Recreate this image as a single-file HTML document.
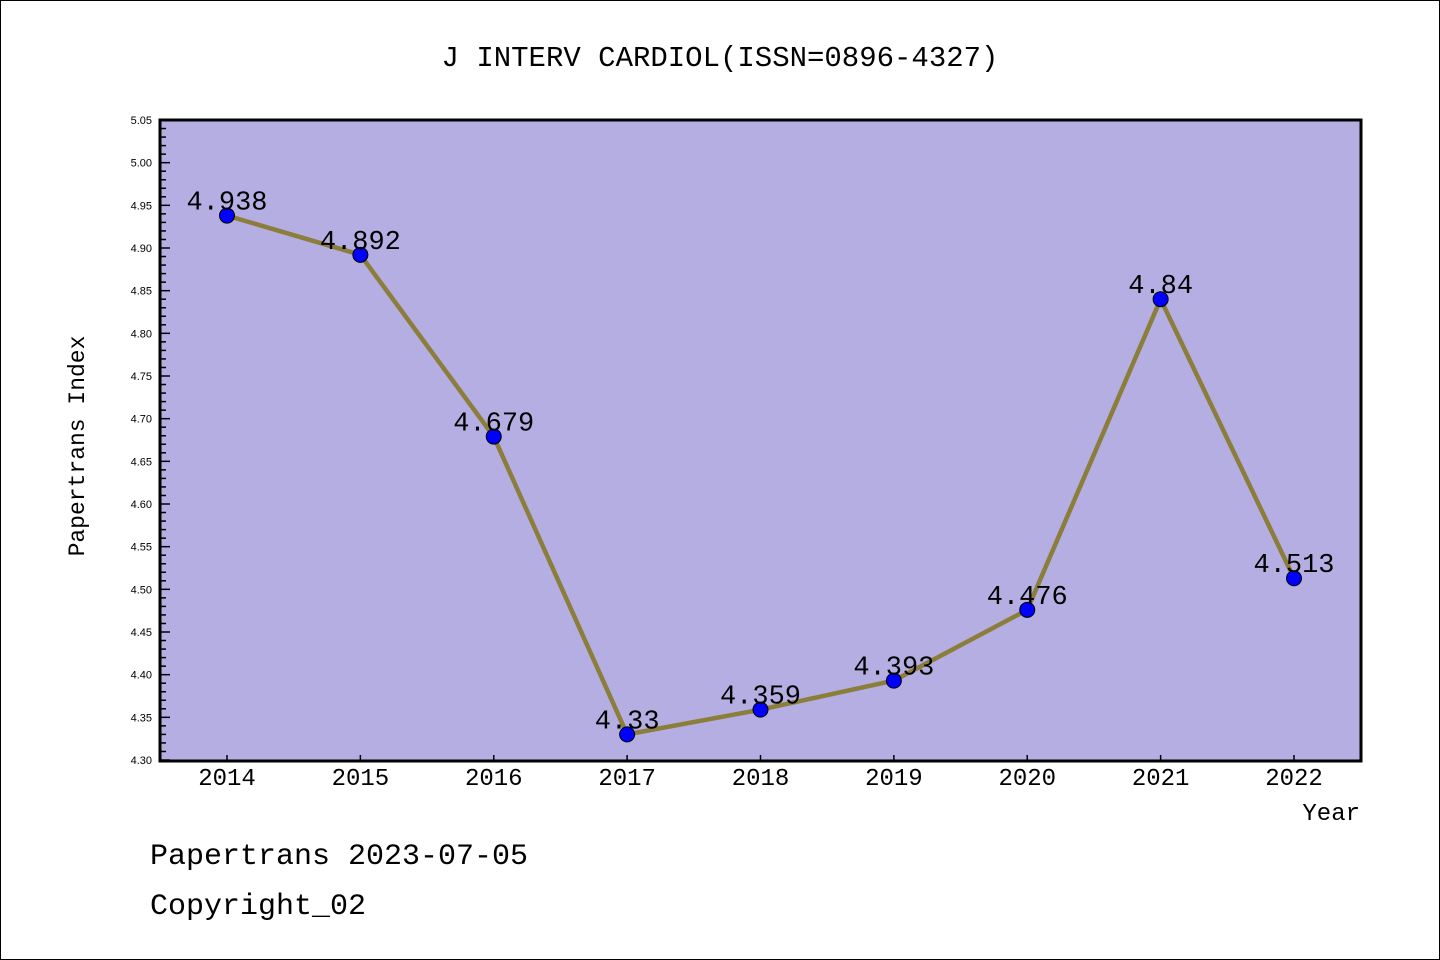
<!DOCTYPE html>
<html><head><meta charset="utf-8"><style>
body{margin:0;background:#fff}
svg{display:block;font-family:"Liberation Mono","Noto Sans CJK SC",monospace}
</style></head><body>
<svg id="chart" width="1440" height="960" viewBox="0 0 1440 960">
<rect x="0.5" y="0.5" width="1439" height="959" fill="#fff" stroke="#000"/>
<text x="720" y="66" text-anchor="middle" font-size="29">J INTERV CARDIOL(ISSN=0896-4327)</text>
<rect x="160" y="120" width="1201" height="641" fill="#b5aee2"/>
<g id="axes"></g>
<g id="marks"></g>
<rect x="160" y="120" width="1201" height="641" fill="none" stroke="#000" stroke-width="3"/>
<text x="84" y="446" text-anchor="middle" font-size="23" transform="rotate(-90 84 446)">Papertrans Index</text>
<text x="1360" y="820" text-anchor="end" font-size="24">Year</text>
<text x="150" y="864" font-size="30">Papertrans 2023-07-05</text>
<text x="150" y="914" font-size="30">Copyright_02</text>
</svg>
<script>
const years=[2014,2015,2016,2017,2018,2019,2020,2021,2022];
const values=[4.938,4.892,4.679,4.33,4.359,4.393,4.476,4.84,4.513];
const valueLabels=["4.938","4.892","4.679","4.33","4.359","4.393","4.476","4.84","4.513"];
const yTicks=["4.30","4.35","4.40","4.45","4.50","4.55","4.60","4.65","4.70","4.75","4.80","4.85","4.90","4.95","5.00","5.05"];
const NS="http://www.w3.org/2000/svg";
const yMin=4.30,yMax=5.05,yTop=120,yBot=760;
const xs=i=>227+i*(1294-227)/(years.length-1);
const ys=v=>yBot-(v-yMin)/(yMax-yMin)*(yBot-yTop);
function mk(t,a,p){const e=document.createElementNS(NS,t);for(const k in a)e.setAttribute(k,a[k]);p.appendChild(e);return e;}
const ax=document.getElementById('axes'),mg=document.getElementById('marks');
for(let k=0;k<=75;k++){const v=yMin+k*0.01,y=ys(v),maj=k%5===0;
 const l=mk('line',{x1:160,x2:maj?170:166,y1:y,y2:y,stroke:'#000','stroke-width':1.5},ax);
 
 }
yTicks.forEach(t=>{const e=mk('text',{x:152,y:ys(parseFloat(t))+4,'text-anchor':'end','font-size':11,'font-family':'Liberation Sans, sans-serif'},ax);e.textContent=t;
 
 });
years.forEach((yr,i)=>{const x=xs(i);const l=mk('line',{x1:x,x2:x,y1:760,y2:755,stroke:'#000','stroke-width':1.5},ax);
 
 
 const e=mk('text',{x:x,y:785,'text-anchor':'middle','font-size':24},ax);e.textContent=yr;
 
 });
const pl=mk('polyline',{points:values.map((v,i)=>xs(i)+','+ys(v)).join(' '),fill:'none',stroke:'#8b7d3a','stroke-width':4.5,'stroke-linejoin':'round'},mg);


values.forEach((v,i)=>{const c=mk('circle',{cx:xs(i),cy:ys(v),r:7.5,fill:'#0000ff',stroke:'#000','stroke-width':1},mg);
 
 
 const t=mk('text',{x:xs(i),y:ys(v)-6,'text-anchor':'middle','font-size':27},mg);t.textContent=valueLabels[i];
 
 });
</script>
</body></html>
